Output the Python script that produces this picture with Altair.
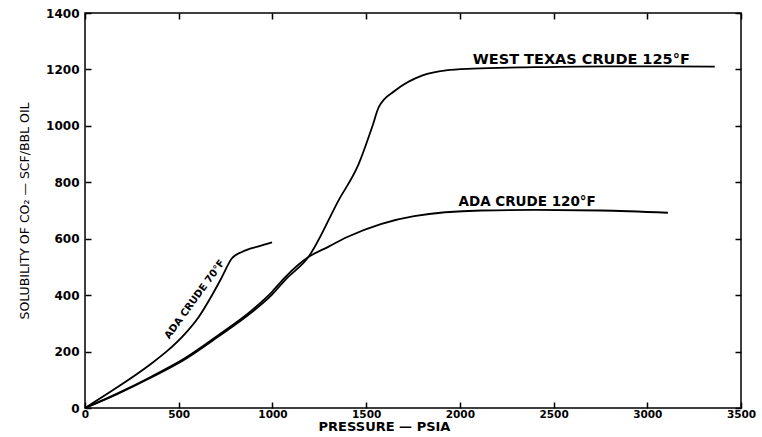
import altair as alt
import pandas as pd

# ---- data (pressure psia, solubility scf/bbl) ----
ada70_p = [0, 174, 353, 442, 532, 604, 676, 729, 783, 837, 926, 998]
ada70_s = [0, 74, 157, 204, 262, 320, 398, 462, 530, 553, 573, 587]

wtx_p = [0, 174, 353, 532, 711, 891, 998, 1070, 1192, 1353, 1461, 1532, 1568,
         1657, 1801, 1926, 2070, 2400, 2800, 3100, 3360]
wtx_s = [0, 50, 108, 172, 253, 340, 402, 455, 535, 736, 866, 996, 1067,
         1126, 1179, 1197, 1203, 1208, 1211, 1211, 1210]

ada120_p = [0, 174, 353, 532, 711, 891, 998, 1070, 1192, 1300, 1399, 1578,
            1756, 2113, 2400, 2750, 3110]
ada120_s = [0, 52, 111, 176, 258, 347, 412, 465, 535, 572, 606, 652,
            680, 700, 702, 700, 692]

x_ticks = [0, 500, 1000, 1500, 2000, 2500, 3000, 3500]
y_ticks = [0, 200, 400, 600, 800, 1000, 1200, 1400]

labels_text = ["WEST TEXAS CRUDE  125°F", "ADA CRUDE  120°F", "ADA CRUDE  70°F"]
labels_p = [2648, 2359, 585]
labels_s = [1221, 715, 385]

# ---- tables ----
curves = pd.concat([
    pd.DataFrame({"p": ada70_p, "s": ada70_s, "c": "ADA 70"}),
    pd.DataFrame({"p": wtx_p, "s": wtx_s, "c": "WTX 125"}),
    pd.DataFrame({"p": ada120_p, "s": ada120_s, "c": "ADA 120"}),
])
frame_pts = pd.DataFrame({"p": [x_ticks[0], x_ticks[-1]], "s": [y_ticks[0], y_ticks[-1]]})
lab = pd.DataFrame({"t": labels_text, "p": labels_p, "s": labels_s})

FONT = "DejaVu Sans"
TK = 6  # inward tick length (axis displaced inward by TK, ticks point back to the frame)
xs = alt.Scale(domain=[0, 3500], nice=False, zero=True)
ys = alt.Scale(domain=[0, 1400], nice=False, zero=True)

common = dict(grid=False, domain=False, ticks=True, tickSize=TK, tickWidth=1.5,
              tickColor="black", offset=-TK, labelColor="black", titleColor="black",
              labelFlush=False, labelFont=FONT, titleFont=FONT)

xaxis = alt.Axis(values=x_ticks, format="d", title="PRESSURE — PSIA",
                 labelPadding=1, labelFontSize=10.5, labelFontWeight="bold",
                 titleFontSize=13, titleFontWeight="bold", titlePadding=1,
                 titleX=299, **common)
yaxis = alt.Axis(values=y_ticks, format="d", title="SOLUBILITY OF CO₂ — SCF/BBL OIL",
                 labelPadding=6, labelFontSize=12, labelFontWeight="bold",
                 titleFontSize=12.5, titleFontWeight="normal", titlePadding=14,
                 **common)
xaxis_top = alt.Axis(values=x_ticks, orient="top", labels=False, title=None, **common)
yaxis_right = alt.Axis(values=y_ticks, orient="right", labels=False, title=None, **common)

lines = alt.Chart(curves).mark_line(color="black", strokeWidth=1.8, interpolate="monotone").encode(
    x=alt.X("p:Q", scale=xs, axis=xaxis),
    y=alt.Y("s:Q", scale=ys, axis=yaxis),
    detail="c:N",
)

frame_axes = alt.Chart(frame_pts).mark_point(opacity=0).encode(
    x=alt.X("p:Q", scale=xs, axis=xaxis_top),
    y=alt.Y("s:Q", scale=ys, axis=yaxis_right),
)

def text_layer(i, size, **kw):
    return alt.Chart(lab.iloc[[i]]).mark_text(font=FONT, fontSize=size, fontWeight="bold",
                                               color="black", **kw).encode(
        x=alt.X("p:Q", scale=xs, axis=None), y=alt.Y("s:Q", scale=ys, axis=None), text="t:N")

t1 = text_layer(0, 14.5, align="center", baseline="alphabetic")
t2 = text_layer(1, 13.5, align="center", baseline="alphabetic")
t3 = text_layer(2, 10, align="center", baseline="middle", angle=306)

chart = alt.layer(lines, frame_axes, t1, t2, t3).resolve_axis(
    x="independent", y="independent"
).properties(
    width=656, height=395,
    padding={"left": 85, "top": 13, "right": 21, "bottom": 29},
    autosize=alt.AutoSizeParams(type="none"),
    background="white",
).configure_view(stroke="black", strokeWidth=1.5)

chart.save("out.html", embed_options={"renderer": "svg", "actions": False})
